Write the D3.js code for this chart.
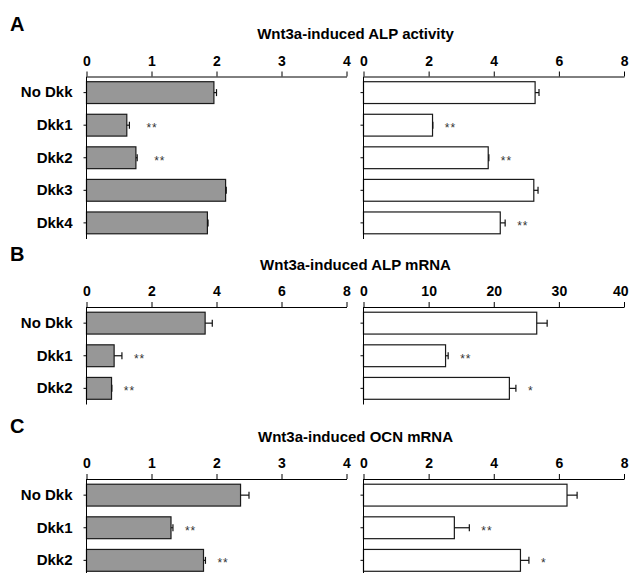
<!DOCTYPE html>
<html>
<head>
<meta charset="utf-8">
<script src="https://cdnjs.cloudflare.com/ajax/libs/d3/7.8.5/d3.min.js"></script>
<style>
  body { margin: 0; background: #fff; }
  svg { display: block; }
  text { font-family: "Liberation Sans", Arial, Helvetica, sans-serif; }
</style>
</head>
<body>
<div id="chart"></div>
<script>
// ---- data ----
var titles = ['Wnt3a-induced ALP activity', 'Wnt3a-induced ALP mRNA', 'Wnt3a-induced OCN mRNA'];
var panelLetters = ['A', 'B', 'C'];

var catsA = ['No Dkk', 'Dkk1', 'Dkk2', 'Dkk3', 'Dkk4'];
var catsBC = ['No Dkk', 'Dkk1', 'Dkk2'];

// A: ALP activity
var alpActGray = [1.96, 0.62, 0.76, 2.14, 1.86];
var alpActGrayErr = [0.04, 0.04, 0.02, 0.01, 0.01];
var alpActGrayStars = ['', '**', '**', '', ''];
var alpActWhite = [5.27, 2.12, 3.83, 5.23, 4.20];
var alpActWhiteErr = [0.12, 0.01, 0.02, 0.13, 0.15];
var alpActWhiteStars = ['', '**', '**', '', '**'];

// B: ALP mRNA
var alpMrnaGray = [3.65, 0.85, 0.77];
var alpMrnaGrayErr = [0.22, 0.24, 0.01];
var alpMrnaGrayStars = ['', '**', '**'];
var alpMrnaWhite = [26.6, 12.6, 22.4];
var alpMrnaWhiteErr = [1.6, 0.4, 1.0];
var alpMrnaWhiteStars = ['', '**', '*'];

// C: OCN mRNA
var ocnGray = [2.37, 1.30, 1.80];
var ocnGrayErr = [0.13, 0.03, 0.03];
var ocnGrayStars = ['', '**', '**'];
var ocnWhite = [6.25, 2.79, 4.82];
var ocnWhiteErr = [0.31, 0.46, 0.26];
var ocnWhiteStars = ['', '**', '*'];

var ticksA = [[0, 1, 2, 3, 4], [0, 2, 4, 6, 8]];
var ticksB = [[0, 2, 4, 6, 8], [0, 10, 20, 30, 40]];
var ticksC = [[0, 1, 2, 3, 4], [0, 2, 4, 6, 8]];

// ---- layout ----
var W = 630, H = 573;
var step = 32.5;
var leftX = [86.5, 346.5], rightX = [363.5, 624];
var panelTop = [0, 230.5, 402.5];

var svg = d3.select('#chart').append('svg')
	.attr('width', W)
	.attr('height', H);

var panels = [
	{ cats: catsA, ticks: ticksA,
		series: [
			{ v: alpActGray, e: alpActGrayErr, s: alpActGrayStars, fill: '#979797', gap: 17 },
			{ v: alpActWhite, e: alpActWhiteErr, s: alpActWhiteStars, fill: '#fff', gap: 12 }
		] },
	{ cats: catsBC, ticks: ticksB,
		series: [
			{ v: alpMrnaGray, e: alpMrnaGrayErr, s: alpMrnaGrayStars, fill: '#979797', gap: 12 },
			{ v: alpMrnaWhite, e: alpMrnaWhiteErr, s: alpMrnaWhiteStars, fill: '#fff', gap: 12 }
		] },
	{ cats: catsBC, ticks: ticksC,
		series: [
			{ v: ocnGray, e: ocnGrayErr, s: ocnGrayStars, fill: '#979797', gap: 12 },
			{ v: ocnWhite, e: ocnWhiteErr, s: ocnWhiteStars, fill: '#fff', gap: 12 }
		] }
];

panels.forEach(function (p, pi) {
	var g = svg.append('g').attr('transform', 'translate(0,' + panelTop[pi] + ')');
	var axisY = 76.5;

	g.append('text')
		.attr('x', 10)
		.attr('y', 30.5)
		.attr('font-size', 20)
		.attr('font-weight', 'bold')
		.text(panelLetters[pi]);

	g.append('text')
		.attr('x', 355.5)
		.attr('y', 39)
		.attr('text-anchor', 'middle')
		.attr('font-size', 15)
		.attr('font-weight', 'bold')
		.text(titles[pi]);

	var n = p.cats.length;
	var y = d3.scaleBand()
		.domain(p.cats)
		.range([axisY, axisY + n * step])
		.paddingInner(0.33)
		.paddingOuter(0.16);

	p.series.forEach(function (s, si) {
		var xr = si === 0 ? leftX : rightX;
		var t = p.ticks[si];
		var x = d3.scaleLinear().domain([t[0], t[t.length - 1]]).range(xr);

		var rows = p.cats.map(function (c, i) {
			return { cat: c, v: s.v[i], e: s.e[i], star: s.s[i] };
		});

		// bars
		g.selectAll('.bar' + si)
			.data(rows)
			.enter().append('rect')
			.attr('x', x(0))
			.attr('y', d => y(d.cat))
			.attr('width', d => x(d.v) - x(0))
			.attr('height', y.bandwidth())
			.attr('fill', s.fill)
			.attr('stroke', '#1a1a1a')
			.attr('stroke-width', 1.2);

		// error bars
		var eb = g.selectAll('.err' + si)
			.data(rows)
			.enter().append('g')
			.attr('stroke', '#111')
			.attr('stroke-width', 1.2);
		eb.append('line')
			.attr('x1', d => x(d.v))
			.attr('x2', d => x(d.v + d.e))
			.attr('y1', d => y(d.cat) + y.bandwidth() / 2)
			.attr('y2', d => y(d.cat) + y.bandwidth() / 2);
		eb.append('line')
			.attr('x1', d => x(d.v + d.e))
			.attr('x2', d => x(d.v + d.e))
			.attr('y1', d => y(d.cat) + y.bandwidth() / 2 - 3.5)
			.attr('y2', d => y(d.cat) + y.bandwidth() / 2 + 3.5);

		// significance stars
		g.selectAll('.star' + si)
			.data(rows.filter(d => d.star))
			.enter().append('text')
			.attr('x', d => x(d.v + d.e) + s.gap)
			.attr('y', d => y(d.cat) + y.bandwidth() / 2 + 7)
			.attr('font-size', 12)
			.attr('fill', '#333')
			.attr('letter-spacing', 1)
			.text(d => d.star);

		// top axis
		var xa = g.append('g')
			.attr('transform', 'translate(0,' + axisY + ')')
			.call(d3.axisTop(x).tickValues(t).tickFormat(d3.format('d'))
				.tickSize(5).tickSizeOuter(0).tickPadding(6));
		xa.selectAll('text')
			.attr('font-size', 14)
			.attr('font-weight', 'bold')
			.attr('fill', '#000')
			.style('font-family', '"Liberation Sans", Arial, sans-serif');
		// keep the last label inside the page
		xa.selectAll('.tick text').each(function () {
			var b = this.getBBox();
			var tx = x(d3.select(this.parentNode).datum());
			if (tx + b.x + b.width > W - 2) {
				d3.select(this).attr('text-anchor', 'end').attr('x', W - 2 - tx);
			}
		});

		// left axis
		var ya = g.append('g')
			.attr('transform', 'translate(' + x(0) + ',0)')
			.call(d3.axisLeft(y).tickSize(3).tickSizeOuter(0).tickPadding(11)
				.tickFormat(si === 0 ? (d => d) : () => ''));
		ya.select('.domain').attr('d', 'M0,' + axisY + 'V' + (axisY + n * step));
		ya.selectAll('text')
			.attr('font-size', 15)
			.attr('font-weight', 'bold')
			.attr('fill', '#000')
			.style('font-family', '"Liberation Sans", Arial, sans-serif');
	});
});
</script>
</body>
</html>
